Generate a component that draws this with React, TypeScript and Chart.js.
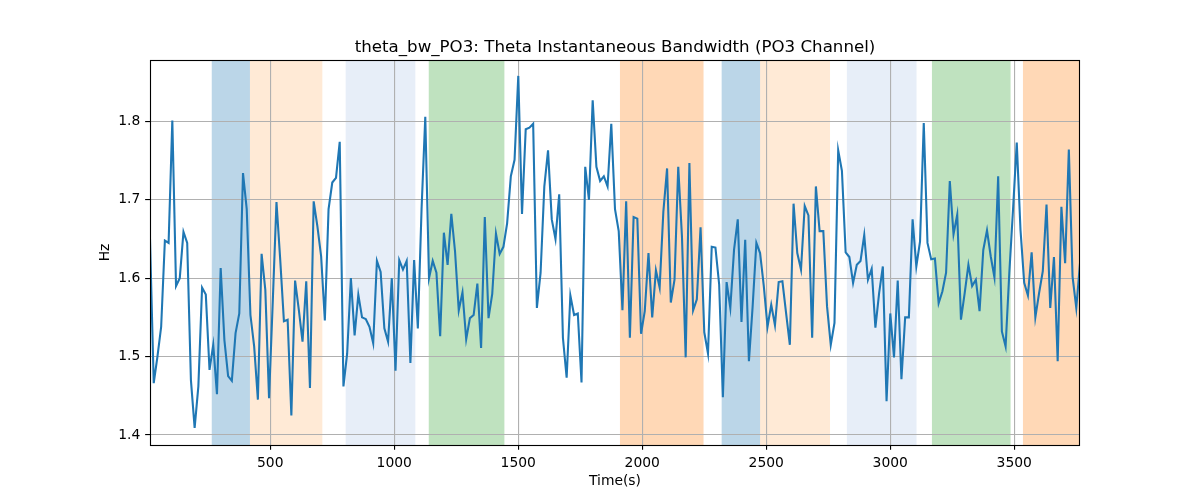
import React, { useEffect, useRef } from "react";
import { Chart, registerables } from "chart.js";

Chart.register(...registerables);

const TITLE = "theta_bw_PO3: Theta Instantaneous Bandwidth (PO3 Channel)";
const X_LABEL = "Time(s)";
const Y_LABEL = "Hz";

const TIME_START = 15;
const TIME_STEP = 15;

const BW_VALUES = [
  1.650, 1.466, 1.500, 1.538, 1.648, 1.645, 1.801, 1.590, 1.600, 1.659,
  1.645, 1.470, 1.409, 1.462, 1.588, 1.579, 1.483, 1.515, 1.452, 1.613,
  1.521, 1.475, 1.469, 1.530, 1.555, 1.734, 1.688, 1.553, 1.513, 1.445,
  1.631, 1.585, 1.447, 1.570, 1.697, 1.624, 1.545, 1.547, 1.425, 1.597,
  1.560, 1.519, 1.596, 1.460, 1.698, 1.666, 1.628, 1.546, 1.688, 1.722,
  1.728, 1.774, 1.462, 1.504, 1.600, 1.527, 1.579, 1.550, 1.548, 1.538,
  1.517, 1.622, 1.608, 1.536, 1.519, 1.600, 1.482, 1.623, 1.611, 1.622,
  1.492, 1.623, 1.536, 1.688, 1.806, 1.600, 1.622, 1.607, 1.526, 1.658,
  1.617, 1.682, 1.634, 1.559, 1.582, 1.522, 1.549, 1.553, 1.593, 1.511,
  1.678, 1.549, 1.580, 1.657, 1.631, 1.640, 1.670, 1.730, 1.751, 1.858,
  1.682, 1.790, 1.792, 1.797, 1.562, 1.607, 1.717, 1.763, 1.675, 1.650,
  1.707, 1.524, 1.473, 1.578, 1.553, 1.555, 1.467, 1.742, 1.700, 1.827,
  1.742, 1.724, 1.730, 1.717, 1.797, 1.688, 1.660, 1.559, 1.698, 1.524,
  1.678, 1.676, 1.529, 1.558, 1.632, 1.550, 1.610, 1.588, 1.685, 1.740,
  1.569, 1.598, 1.742, 1.653, 1.499, 1.747, 1.559, 1.573, 1.665, 1.531,
  1.504, 1.640, 1.639, 1.592, 1.448, 1.595, 1.562, 1.636, 1.675, 1.544,
  1.649, 1.494, 1.564, 1.645, 1.632, 1.590, 1.538, 1.566, 1.540, 1.595,
  1.596, 1.555, 1.515, 1.695, 1.632, 1.611, 1.692, 1.680, 1.524, 1.717,
  1.660, 1.660, 1.564, 1.515, 1.543, 1.763, 1.737, 1.633, 1.627, 1.594,
  1.617, 1.622, 1.655, 1.598, 1.612, 1.537, 1.581, 1.615, 1.443, 1.555,
  1.499, 1.597, 1.471, 1.550, 1.550, 1.675, 1.615, 1.647, 1.798, 1.645,
  1.624, 1.625, 1.568, 1.583, 1.607, 1.724, 1.656, 1.681, 1.547, 1.581,
  1.617, 1.590, 1.598, 1.558, 1.636, 1.661, 1.628, 1.601, 1.730, 1.532,
  1.513, 1.607, 1.688, 1.773, 1.662, 1.594, 1.578, 1.633, 1.550, 1.581,
  1.609, 1.694, 1.562, 1.627, 1.494, 1.691, 1.619, 1.764, 1.602, 1.562,
  1.619,
];

const TIMES = BW_VALUES.map((_, i) => TIME_START + i * TIME_STEP);

const BAND_STARTS = [264, 418, 804, 1139, 1910, 2320, 2475, 2825, 3168, 3535];
const BAND_ENDS = [418, 710, 1085, 1444, 2247, 2475, 2757, 3106, 3485, 3800];
const BAND_COLORS = [
  "rgba(31,119,180,0.3)",
  "rgba(255,187,120,0.3)",
  "rgba(174,199,232,0.3)",
  "rgba(44,160,44,0.3)",
  "rgba(255,127,14,0.3)",
  "rgba(31,119,180,0.3)",
  "rgba(255,187,120,0.3)",
  "rgba(174,199,232,0.3)",
  "rgba(44,160,44,0.3)",
  "rgba(255,127,14,0.3)",
];

const X_TICKS = [500, 1000, 1500, 2000, 2500, 3000, 3500];
const Y_TICKS = [1.4, 1.5, 1.6, 1.7, 1.8];
const X_MIN = TIMES[0];
const X_MAX = TIMES[TIMES.length - 1];
const Y_MIN = 1.3872;
const Y_MAX = 1.8783;

const FONT = "'DejaVu Sans', sans-serif";
const PT = 100 / 72;

const decorPlugin = {
  id: "decor",
  beforeDraw(chart: any) {
    const { ctx, chartArea, scales } = chart;
    ctx.save();
    ctx.fillStyle = "#ffffff";
    ctx.fillRect(0, 0, chart.width, chart.height);
    ctx.beginPath();
    ctx.rect(chartArea.left, chartArea.top, chartArea.right - chartArea.left, chartArea.bottom - chartArea.top);
    ctx.clip();
    for (let i = 0; i < BAND_STARTS.length; i++) {
      const x0 = scales.x.getPixelForValue(BAND_STARTS[i]);
      const x1 = scales.x.getPixelForValue(BAND_ENDS[i]);
      ctx.fillStyle = BAND_COLORS[i];
      ctx.fillRect(x0, chartArea.top, x1 - x0, chartArea.bottom - chartArea.top);
    }
    ctx.restore();
  },
  afterDraw(chart: any) {
    const { ctx, chartArea } = chart;
    ctx.save();
    ctx.strokeStyle = "#000000";
    ctx.lineWidth = 0.8 * PT;
    ctx.strokeRect(
      Math.round(chartArea.left) + 0.5,
      Math.round(chartArea.top) + 0.5,
      Math.round(chartArea.right - chartArea.left) - 1,
      Math.round(chartArea.bottom - chartArea.top)
    );
    ctx.fillStyle = "#000000";
    ctx.textAlign = "center";
    ctx.font = `${12 * PT}px ${FONT}`;
    ctx.textBaseline = "alphabetic";
    ctx.fillText(TITLE, (chartArea.left + chartArea.right) / 2, chartArea.top - 6 * PT);
    ctx.font = `${10 * PT}px ${FONT}`;
    ctx.textBaseline = "middle";
    ctx.fillText(X_LABEL, (chartArea.left + chartArea.right) / 2, 481);
    ctx.translate(105, (chartArea.top + chartArea.bottom) / 2);
    ctx.rotate(-Math.PI / 2);
    ctx.fillText(Y_LABEL, 0, 0);
    ctx.restore();
  },
};

export default function App() {
  const ref = useRef<HTMLCanvasElement | null>(null);
  useEffect(() => {
    document.body.style.margin = "0";
    const canvas = ref.current!;
    const gridOpts = {
      color: "#b0b0b0",
      lineWidth: 0.8 * PT,
      tickLength: 3.5 * PT,
      tickColor: "#000",
      tickWidth: 0.8 * PT,
    };
    const tickFont = { family: FONT, size: 10 * PT };
    const chart = new Chart(canvas, {
      type: "line",
      data: {
        datasets: [
          {
            data: TIMES.map((t, i) => ({ x: t, y: BW_VALUES[i] })),
            borderColor: "#1f77b4",
            borderWidth: 1.5 * PT,
            pointRadius: 0,
            tension: 0,
            fill: false,
          },
        ],
      },
      options: {
        responsive: false,
        animation: false,
        devicePixelRatio: 1,
        layout: { padding: { top: 60, right: 120, left: 0, bottom: 0 } },
        plugins: {
          legend: { display: false },
          title: { display: false },
          tooltip: { enabled: false },
        },
        scales: {
          x: {
            type: "linear",
            min: X_MIN,
            max: X_MAX,
            afterFit: (s: any) => {
              s.height = 55;
            },
            afterBuildTicks: (s: any) => {
              s.ticks = X_TICKS.map((v) => ({ value: v }));
            },
            ticks: {
              autoSkip: false,
              maxRotation: 0,
              padding: 3.5 * PT,
              color: "#000",
              font: tickFont,
              callback: (v: any) => String(v),
            },
            grid: gridOpts,
            border: { display: false },
          },
          y: {
            type: "linear",
            min: Y_MIN,
            max: Y_MAX,
            afterFit: (s: any) => {
              s.width = 150;
            },
            afterBuildTicks: (s: any) => {
              s.ticks = Y_TICKS.map((v) => ({ value: v }));
            },
            ticks: {
              autoSkip: false,
              padding: 3.5 * PT,
              color: "#000",
              font: tickFont,
              callback: (v: any) => Number(v).toFixed(1),
            },
            grid: gridOpts,
            border: { display: false },
          },
        },
      },
      plugins: [decorPlugin],
    });
    return () => chart.destroy();
  }, []);
  return (
    <div style={{ position: "absolute", left: 0, top: 0, width: 1200, height: 500 }}>
      <canvas ref={ref} width={1200} height={500} style={{ width: 1200, height: 500, display: "block" }} />
    </div>
  );
}
